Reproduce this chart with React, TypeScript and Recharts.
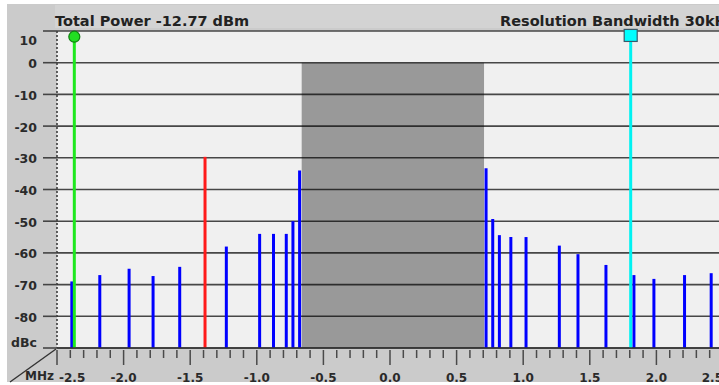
import React from 'react';
import {
  ComposedChart,
  Bar,
  Cell,
  XAxis,
  YAxis,
  CartesianGrid,
  ReferenceArea,
  ReferenceLine,
  ReferenceDot,
} from 'recharts';

// ---- data ----
const spurFreqsMHz = [
  -2.39, -2.18, -1.96, -1.78, -1.58, -1.23, -0.98, -0.876, -0.78, -0.73, -0.68,
  0.72, 0.77, 0.82, 0.906, 1.02, 1.27, 1.41, 1.62, 1.83, 1.98, 2.21, 2.41,
];
const spurLevelsDbc = [
  -69, -67, -65, -67.3, -64.4, -58, -54, -54, -54, -50, -34,
  -33.3, -49.3, -54.4, -55, -55, -57.7, -60.4, -63.8, -67, -68.2, -67, -66.4,
];
const peakSpurFreqMHz = -1.39;
const peakSpurLevelDbc = -29.7;

const channelBandMHz = [-0.663, 0.706];
const channelBandTopDbc = 0;

const markerFreqsMHz = [-2.37, 1.807];
const markerLevelsDbc = [8.2, 8.6];

const xDomain = [-2.5, 2.5];
const yDomain = [-90, 10];

const xTicks = [
  -2.5, -2.4, -2.3, -2.2, -2.1, -2.0, -1.9, -1.8, -1.7, -1.6,
  -1.5, -1.4, -1.3, -1.2, -1.1, -1.0, -0.9, -0.8, -0.7, -0.6,
  -0.5, -0.4, -0.3, -0.2, -0.1, 0.0, 0.1, 0.2, 0.3, 0.4,
  0.5, 0.6, 0.7, 0.8, 0.9, 1.0, 1.1, 1.2, 1.3, 1.4,
  1.5, 1.6, 1.7, 1.8, 1.9, 2.0, 2.1, 2.2, 2.3, 2.4, 2.5,
];
const xMajorTicks = [-2.5, -2.0, -1.5, -1.0, -0.5, 0.0, 0.5, 1.0, 1.5, 2.0, 2.5];
const xTickLabels = ['-2.5', '-2.0', '-1.5', '-1.0', '-0.5', '0.0', '0.5', '1.0', '1.5', '2.0', '2.5'];

const yTicks = [10, 0, -10, -20, -30, -40, -50, -60, -70, -80, -90];
const yTickLabels = ['10', '0', '-10', '-20', '-30', '-40', '-50', '-60', '-70', '-80', 'dBc'];

const titleLeft = 'Total Power -12.77 dBm';
const titleRight = 'Resolution Bandwidth 30kHz';
const xUnit = 'MHz';

// ---- table built from the arrays ----
const rows = [
  ...spurFreqsMHz.map((f, i) => ({ f, range: [yDomain[0], spurLevelsDbc[i]], kind: 'spur' })),
  { f: peakSpurFreqMHz, range: [yDomain[0], peakSpurLevelDbc], kind: 'peak' },
].sort((a, b) => a.f - b.f);

const FONT = '"DejaVu Sans", sans-serif';
const TEXT = '#2a2a2a';

const XTick = (props: any) => {
  const { x, y, payload } = props;
  const v = payload.value;
  const idx = xMajorTicks.findIndex((m) => Math.abs(m - v) < 1e-6);
  const major = idx >= 0;
  const anchor = idx === 0 ? 'start' : idx === xMajorTicks.length - 1 ? 'end' : 'middle';
  const tx = idx === 0 ? x + 2 : x;
  return (
    <g>
      <line x1={x} y1={y} x2={x} y2={y + (major ? 15 : 8)} stroke="#4a4a4a" strokeWidth={1.5} />
      {major && (
        <text x={tx} y={y + 32} textAnchor={anchor} fontFamily={FONT} fontWeight="bold" fontSize={12} fill={TEXT}>
          {xTickLabels[idx]}
        </text>
      )}
    </g>
  );
};

const YTick = (props: any) => {
  const { x, y, payload } = props;
  const idx = yTicks.findIndex((t) => Math.abs(t - payload.value) < 1e-6);
  let dy = 5.5;
  if (idx === 0) dy = 13.5;
  if (idx === yTicks.length - 1) dy = -1;
  return (
    <text x={x} y={y + dy} textAnchor="end" fontFamily={FONT} fontWeight="bold" fontSize={12.5} fill={TEXT}>
      {yTickLabels[idx]}
    </text>
  );
};

const SquareMarker = (props: any) => {
  const { cx, cy } = props;
  return <rect x={cx - 6.5} y={cy - 6} width={13} height={12} fill="#00ffff" stroke="#3a5a6a" strokeWidth={1.2} />;
};

export default function App() {
  return (
    <div
      style={{
        position: 'absolute',
        left: 0,
        top: 0,
        width: 719,
        height: 385,
        background: '#ffffff',
        overflow: 'hidden',
      }}
    >
      <svg width={719} height={385} style={{ position: 'absolute', left: 0, top: 0 }}>
        <rect x={7} y={4} width={712} height={378} fill="#cbcbcb" />
        <rect x={55} y={5} width={664} height={23} fill="#d3d3d3" />
        <text x={55} y={26} fontFamily={FONT} fontWeight="bold" fontSize={14.5} fill="#222">
          {titleLeft}
        </text>
        <text x={500} y={26} fontFamily={FONT} fontWeight="bold" fontSize={14.5} fill="#222">
          {titleRight}
        </text>
      </svg>
      <div style={{ position: 'absolute', left: 0, top: 0 }}>
        <ComposedChart
          width={736}
          height={385}
          data={rows}
          margin={{ top: 31, right: 13, bottom: 0, left: 0 }}
        >
          <CartesianGrid vertical={false} stroke="#474747" strokeWidth={1.6} fill="#f0f0f0" fillOpacity={1} />
          <XAxis
            dataKey="f"
            type="number"
            domain={xDomain}
            ticks={xTicks}
            interval={0}
            allowDataOverflow
            height={37}
            tickSize={0}
            tickLine={false}
            tick={<XTick />}
            axisLine={{ stroke: '#333', strokeWidth: 1.6 }}
          />
          <YAxis
            type="number"
            domain={yDomain}
            ticks={yTicks}
            interval={0}
            allowDataOverflow
            width={57}
            tickSize={14}
            tickMargin={6}
            tick={<YTick />}
            tickLine={{ stroke: '#444', strokeWidth: 1.6 }}
            axisLine={{ stroke: '#333', strokeWidth: 1.5, strokeDasharray: '2 2' }}
          />
          <ReferenceArea
            x1={channelBandMHz[0]}
            x2={channelBandMHz[1]}
            y1={yDomain[0]}
            y2={channelBandTopDbc}
            fill="#000000"
            fillOpacity={0.36}
            stroke="none"
          />
          <Bar dataKey="range" barSize={3} isAnimationActive={false}>
            {rows.map((r, i) => (
              <Cell key={i} fill={r.kind === 'peak' ? '#ff1a1a' : '#0000ff'} />
            ))}
          </Bar>
          <ReferenceLine
            segment={[
              { x: markerFreqsMHz[0], y: markerLevelsDbc[0] },
              { x: markerFreqsMHz[0], y: yDomain[0] },
            ]}
            stroke="#1ee81e"
            strokeWidth={3}
          />
          <ReferenceLine
            segment={[
              { x: markerFreqsMHz[1], y: markerLevelsDbc[1] },
              { x: markerFreqsMHz[1], y: yDomain[0] },
            ]}
            stroke="#00f2f2"
            strokeWidth={3}
          />
          <ReferenceDot
            x={markerFreqsMHz[0]}
            y={markerLevelsDbc[0]}
            r={5.5}
            fill="#22dd22"
            stroke="#0f7f0f"
            strokeWidth={1.2}
          />
          <ReferenceDot x={markerFreqsMHz[1]} y={markerLevelsDbc[1]} r={6} shape={<SquareMarker />} />
        </ComposedChart>
      </div>
      <svg width={719} height={385} style={{ position: 'absolute', left: 0, top: 0, pointerEvents: 'none' }}>
        <text x={25} y={380} fontFamily={FONT} fontWeight="bold" fontSize={12} fill={TEXT}>
          {xUnit}
        </text>
        <line x1={10} y1={382} x2={56} y2={349} stroke="#333" strokeWidth={1.4} />
      </svg>
    </div>
  );
}
